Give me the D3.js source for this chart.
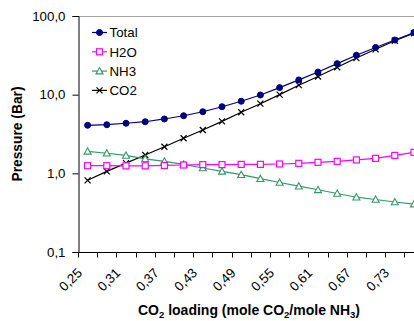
<!DOCTYPE html>
<html><head><meta charset="utf-8">
<script src="https://cdn.jsdelivr.net/npm/d3@7"></script>
<style>
html,body{margin:0;padding:0;background:#fff;}
svg{display:block;font-family:"Liberation Sans",Arial,sans-serif;}
</style></head>
<body><svg id="c" width="414" height="321"></svg>
<script>
const categories = [0.25,0.28,0.31,0.34,0.37,0.40,0.43,0.46,0.49,0.52,0.55,0.58,0.61,0.64,0.67,0.70,0.73,0.76];
const totalP = [4.08,4.15,4.33,4.53,4.91,5.40,6.07,7.03,8.24,9.9,12.3,15.4,19.4,24.8,31.7,39.8,49.5,61.7];
const h2oP   = [1.25,1.25,1.245,1.245,1.26,1.276,1.29,1.29,1.30,1.30,1.314,1.34,1.38,1.42,1.48,1.55,1.69,1.85];
const nh3P   = [1.905,1.80,1.69,1.53,1.42,1.30,1.17,1.06,0.961,0.855,0.765,0.686,0.618,0.554,0.497,0.465,0.432,0.407];
const co2P   = [0.815,1.06,1.35,1.71,2.18,2.79,3.56,4.58,5.97,7.68,10.0,13.2,17.0,22.3,29.2,37.7,48.4,60.4];
const yTicks = [0.1,1,10,100];
const seriesNames = ["Total","H2O","NH3","CO2"];

const svg = d3.select("#c");
const pLeft = 78, pTop = 16, pBottom = 252, step = 19.2;
const x = d3.scaleBand().domain(categories).range([pLeft, pLeft + categories.length*step]).padding(0);
const y = d3.scaleLog().domain([0.1,100]).range([pBottom, pTop]);
const fmt = v => v.toFixed(1).replace(".", ",");
const fmt2 = v => v.toFixed(2).replace(".", ",");

// top border
svg.append("line").attr("x1", pLeft).attr("x2", 414).attr("y1", pTop+0.5).attr("y2", pTop+0.5)
  .attr("stroke", "#a6a6a6").attr("stroke-width", 1);

// y axis
const ya = svg.append("g").attr("transform", `translate(${pLeft+0.5},0)`)
  .call(d3.axisLeft(y).tickValues(yTicks).tickFormat(fmt).tickSize(6).tickPadding(7));
ya.select(".domain").attr("stroke", "#000");
ya.selectAll(".tick line").attr("stroke", "#000");
ya.selectAll(".tick text").attr("font-size", 13.3).attr("fill", "#000").attr("font-family", "Liberation Sans, Arial, sans-serif");

// x axis
const xa = svg.append("g").attr("transform", `translate(0,${pBottom+0.5})`);
xa.append("line").attr("x1", pLeft).attr("x2", 414).attr("stroke", "#000");
const edges = d3.range(categories.length + 1).map(k => (k < categories.length ? x(categories[k]) : x(categories[k-1]) + x.bandwidth()));
xa.selectAll("line.tk").data(edges).join("line").attr("class","tk")
  .attr("x1", d => Math.round(d)+0.5).attr("x2", d => Math.round(d)+0.5).attr("y1", 0).attr("y2", 5).attr("stroke", "#000");
xa.selectAll("text").data(categories.filter((c,i) => i % 2 === 0)).join("text")
  .attr("transform", d => `translate(${x(d) + x.bandwidth()/2 - 8},${18}) rotate(-45)`)
  .attr("text-anchor", "end").attr("dy", "0.35em").attr("font-size", 13.3).attr("fill", "#000")
  .text(fmt2);

// lines
const g = svg.append("g");
const cx = i => x(categories[i]) + x.bandwidth()/2;
const line = d3.line().x((d,i) => cx(i)).y(d => y(d));
const series = [
  {name:seriesNames[0], vals:totalP, color:"#000080", marker:"circle"},
  {name:seriesNames[1], vals:h2oP, color:"#ff00ff", marker:"square"},
  {name:seriesNames[2], vals:nh3P, color:"#339966", marker:"triangle"},
  {name:seriesNames[3], vals:co2P, color:"#000000", marker:"cross"}
];
function drawMarker(sel, type, color) {
  if (type === "circle") {
    sel.append("circle").attr("r", 3).attr("fill", color).attr("stroke", color);
  } else if (type === "square") {
    sel.append("rect").attr("x",-3).attr("y",-3).attr("width",6).attr("height",6)
      .attr("fill","#fff").attr("stroke",color).attr("stroke-width",1.2);
  } else if (type === "triangle") {
    sel.append("path").attr("d","M0,-3.5L3.5,2.8L-3.5,2.8Z").attr("fill","#fff").attr("stroke",color).attr("stroke-width",1.1);
  } else {
    sel.append("path").attr("d","M-3,-3L3,3M-3,3L3,-3").attr("stroke",color).attr("stroke-width",1.2);
  }
}
[3,2,1,0].forEach(si => {
  const s = series[si];
  g.append("path").datum(s.vals).attr("d", line).attr("fill","none").attr("stroke", s.color).attr("stroke-width", 1.2);
});
[3,2,1,0].forEach(si => {
  const s = series[si];
  s.vals.forEach((v,i) => {
    const m = g.append("g").attr("transform", `translate(${cx(i)},${y(v)})`);
    drawMarker(m, s.marker, s.color);
  });
});

// legend
series.forEach((s,i) => {
  const ly = 32.5 + i*19.3;
  const lg = svg.append("g").attr("transform", `translate(92,${ly})`);
  lg.append("line").attr("x1",0).attr("x2",15).attr("stroke", s.color).attr("stroke-width",1.2);
  const m = lg.append("g").attr("transform","translate(7.5,0)");
  drawMarker(m, s.marker, s.color);
  lg.append("text").attr("x", 17.5).attr("dy","0.36em").attr("font-size",13.3).attr("fill","#000").text(s.name);
});

// axis titles
svg.append("text").attr("transform", `translate(22,${(pTop+pBottom)/2}) rotate(-90)`)
  .attr("text-anchor","middle").attr("font-weight","bold").attr("font-size",13.8).text("Pressure (Bar)");
const xt = svg.append("text").attr("x", 249).attr("y", 315).attr("text-anchor","middle")
  .attr("font-weight","bold").attr("font-size",14);
xt.append("tspan").text("CO");
xt.append("tspan").attr("font-size",9.5).attr("dy",3).text("2");
xt.append("tspan").attr("dy",-3).text(" loading (mole CO");
xt.append("tspan").attr("font-size",9.5).attr("dy",3).text("2");
xt.append("tspan").attr("dy",-3).text("/mole NH");
xt.append("tspan").attr("font-size",9.5).attr("dy",3).text("3");
xt.append("tspan").attr("dy",-3).text(")");
</script></body></html>
